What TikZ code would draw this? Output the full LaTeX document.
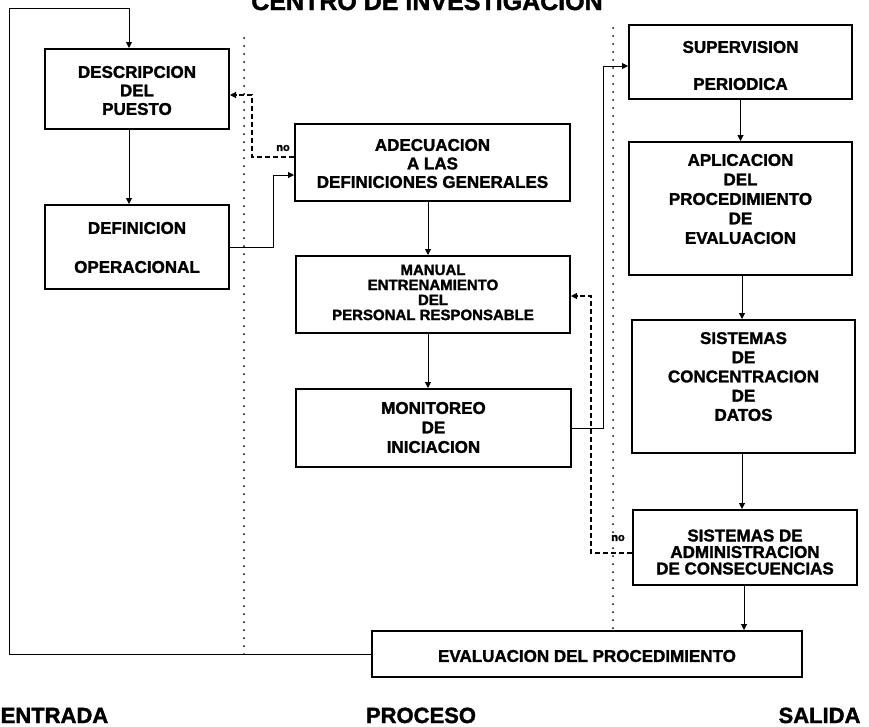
\documentclass[tikz,border=0pt]{standalone}
\usepackage{fontspec}
\setmainfont{Liberation Sans}[BoldFeatures={FakeBold=1.6}]
\usetikzlibrary{arrows.meta}
\begin{document}
\begin{tikzpicture}[x=1pt,y=-1pt,
  box/.style={draw, line width=2pt, inner sep=0pt},
  txt/.style={font=\bfseries\fontsize{17}{19.5}\selectfont, align=center, inner sep=0pt},
  lab/.style={font=\bfseries\fontsize{22}{24}\selectfont, inner sep=0pt, anchor=base},
  nolab/.style={font=\bfseries\fontsize{11}{12}\selectfont, inner sep=0pt},
  conn/.style={line width=1pt, -{Triangle[length=6pt,width=6pt]}},
  fback/.style={line width=1.1pt, dash pattern=on 5pt off 3pt, -{Triangle[length=6pt,width=6pt]}},
  sepline/.style={line width=2pt, line cap=round, dash pattern=on 0pt off 8pt}]
\useasboundingbox (0,0) rectangle (869,726);
\fill[white] (0,0) rectangle (869,726);

% title (cut by the top edge)
\node[font=\bfseries\fontsize{25}{27}\selectfont, inner sep=0pt, anchor=base] (title) at (427,10) {CENTRO DE INVESTIGACION};

% dotted separators
\coordinate (s1a) at (244,38); \coordinate (s1b) at (244,660);
\coordinate (s2a) at (613,28); \coordinate (s2b) at (613,628);
\draw[sepline] (s1a) -- (s1b);
\draw[sepline] (s2a) -- (s2b);

% boxes
\node[box, minimum width=184pt, minimum height=80pt] (desc) at (137,89) {};
\node[box, minimum width=184pt, minimum height=84pt] (defi) at (137,247) {};
\node[box, minimum width=275pt, minimum height=77pt] (adec) at (432.5,162.5) {};
\node[box, minimum width=274pt, minimum height=77pt] (manu) at (433,294.5) {};
\node[box, minimum width=275pt, minimum height=78pt] (moni) at (433.5,428) {};
\node[box, minimum width=223pt, minimum height=74pt] (supe) at (740.5,62) {};
\node[box, minimum width=223pt, minimum height=133pt] (apli) at (740.5,208.5) {};
\node[box, minimum width=223pt, minimum height=133pt] (conc) at (743.5,386.5) {};
\node[box, minimum width=224pt, minimum height=75pt] (admi) at (745,547.5) {};
\node[box, minimum width=430pt, minimum height=46pt] (eval) at (587,654) {};

% texts
\node[txt, font=\bfseries\fontsize{17}{18.5}\selectfont] (desct) at (137,90.5) {DESCRIPCION\\DEL\\PUESTO};
\node[txt, font=\bfseries\fontsize{17}{39}\selectfont] (defit) at (137,247.5) {DEFINICION\\OPERACIONAL};
\node[txt, font=\bfseries\fontsize{17}{18.5}\selectfont] (adect) at (432.5,163.5) {ADECUACION\\A LAS\\DEFINICIONES GENERALES};
\node[txt, font=\bfseries\fontsize{15}{15}\selectfont] (manut) at (433,292.5) {MANUAL\\ENTRENAMIENTO\\DEL\\PERSONAL RESPONSABLE};
\node[txt] (monit) at (433.5,427.5) {MONITOREO\\DE\\INICIACION};
\node[txt, font=\bfseries\fontsize{17}{37}\selectfont] (supet) at (740.5,65.5) {SUPERVISION\\PERIODICA};
\node[txt] (aplit) at (740.5,199) {APLICACION\\DEL\\PROCEDIMIENTO\\DE\\EVALUACION};
\node[txt, font=\bfseries\fontsize{17}{19.2}\selectfont] (conct) at (743.5,376.5) {SISTEMAS\\DE\\CONCENTRACION\\DE\\DATOS};
\node[txt, font=\bfseries\fontsize{17}{16.5}\selectfont] (admit) at (745,552) {SISTEMAS DE\\ADMINISTRACION\\DE CONSECUENCIAS};
\node[txt] (evalt) at (587,656) {EVALUACION DEL PROCEDIMIENTO};

% connectors
\coordinate (loopA) at (9,8);
\draw[conn] (eval.west) -| (loopA) -| ([xshift=-8pt]desc.north);
\draw[conn] ([xshift=-8pt]desc.south) -- ([xshift=-8pt]defi.north);
\draw[conn] (defi.east) -- ++(43,0) |- ([yshift=-12.5pt]adec.west);
\draw[fback] ([yshift=5.5pt]adec.west) -- ++(-42,0) |- ([yshift=-6pt]desc.east);
\draw[conn] ([xshift=-4.5pt]adec.south) -- ([xshift=-5pt]manu.north);
\draw[conn] ([xshift=-5pt]manu.south) -- ([xshift=-5.5pt]moni.north);
\draw[conn] (moni.east) -- ++(31,0) |- ([yshift=-4pt]supe.west);
\draw[fback] ([yshift=-5.5pt]admi.west) -- ++(-41,0) |- ([yshift=-1.5pt]manu.east);
\draw[conn] (supe.south) -- (apli.north);
\draw[conn] ([xshift=1.5pt]apli.south) -- ([xshift=-1.5pt]conc.north);
\draw[conn] ([xshift=-1.5pt]conc.south) -- ([xshift=-3pt]admi.north);
\draw[conn] ([xshift=-1pt]admi.south) -- ([xshift=157pt]eval.north);

% "no" labels
\node[nolab] (no1) at (283,148) {no};
\node[nolab] (no2) at (618,538) {no};

% column labels
\node[lab, anchor=base west] (entr) at (0.5,723) {ENTRADA};
\node[lab] (proc) at (421,723) {PROCESO};
\node[lab] (sali) at (819.5,723) {SALIDA};
\end{tikzpicture}
\end{document}
